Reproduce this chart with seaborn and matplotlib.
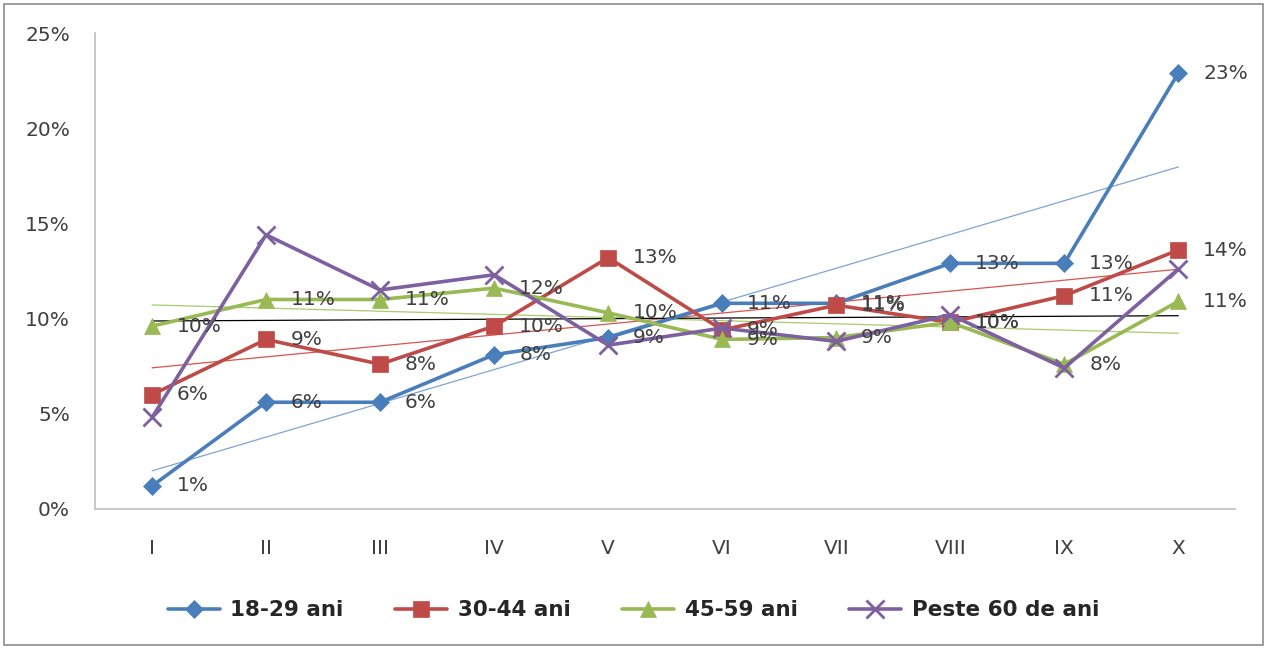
import matplotlib
matplotlib.use("Agg")
import matplotlib.pyplot as plt
from matplotlib.patches import Rectangle
from matplotlib.ticker import FuncFormatter
import seaborn as sns
import numpy as np

# === DATA (percent) ===
categories = ["I", "II", "III", "IV", "V", "VI", "VII", "VIII", "IX", "X"]
age_18_29 = [1.2, 5.6, 5.6, 8.1, 9.0, 10.8, 10.8, 12.9, 12.9, 22.9]
age_30_44 = [6.0, 8.9, 7.6, 9.6, 13.2, 9.4, 10.7, 9.8, 11.2, 13.6]
age_45_59 = [9.6, 11.0, 11.0, 11.6, 10.3, 8.9, 9.0, 9.8, 7.6, 10.9]
age_60_plus = [4.8, 14.4, 11.5, 12.3, 8.6, 9.5, 8.8, 10.2, 7.4, 12.6]

series_names = ["18-29 ani", "30-44 ani", "45-59 ani", "Peste 60 de ani"]
series_values = [age_18_29, age_30_44, age_45_59, age_60_plus]

# === STYLE ===
colors = ["#4A7EBB", "#BE4B48", "#98B954", "#7D60A0"]
trend_colors = ["#7FA3D6", "#D9534F", "#A8CC6E", "#000000"]
markers = ["D", "s", "^", "x"]
marker_sizes = [9, 11, 11, 13]
show_labels = [True, True, True, False]

sns.set_style("white")
plt.rcParams["font.family"] = ["DejaVu Sans"]

fig = plt.figure(figsize=(12.67, 6.49), dpi=100)
ax = fig.add_axes([0.075, 0.216, 0.9, 0.733])

x = np.arange(len(categories))

# trend lines (linear fit), drawn thin under the series
for vals, tc in zip(series_values, trend_colors):
    sns.regplot(x=x, y=vals, ax=ax, scatter=False, ci=None, truncate=True,
                line_kws={"color": tc, "lw": 0.9, "zorder": 1})

for name, vals, c, m, ms in zip(series_names, series_values, colors, markers, marker_sizes):
    sns.lineplot(x=x, y=vals, ax=ax, color=c, lw=2.6, marker=m, markersize=ms,
                 markeredgecolor=c, markeredgewidth=2 if m == "x" else 0.5,
                 label=name, zorder=3)

# data labels (last series has none in the original)
for vals, show in zip(series_values, show_labels):
    if not show:
        continue
    for xi, v in zip(x, vals):
        ax.annotate(f"{v:.0f}%", (xi, v), xytext=(18, 0), textcoords="offset points",
                    ha="left", va="center", fontsize=14.5, color="#404040", zorder=5)

ax.set_xlim(-0.5, len(categories) - 0.5)
ax.set_ylim(0, 25)
ax.set_yticks([0, 5, 10, 15, 20, 25])
ax.yaxis.set_major_formatter(FuncFormatter(lambda v, p: f"{v:.0f}%"))
ax.set_xticks(x)
ax.set_xticklabels(categories)
ax.tick_params(axis="both", labelsize=14.5, colors="#404040", length=0)
ax.tick_params(axis="x", pad=22)
ax.tick_params(axis="y", pad=18)
ax.set_xlabel("")
ax.set_ylabel("")

for side in ["top", "right"]:
    ax.spines[side].set_visible(False)
for side in ["left", "bottom"]:
    ax.spines[side].set_color("#BFBFBF")
    ax.spines[side].set_linewidth(1.2)

ax.legend(loc="center", bbox_to_anchor=(0.5, 0.06), bbox_transform=fig.transFigure,
          ncol=4, frameon=False, handlelength=2.4, columnspacing=2.4, handletextpad=0.5,
          prop={"weight": "bold", "size": 15.5})

fig.patches.append(Rectangle((0.003, 0.006), 0.994, 0.988, transform=fig.transFigure,
                             fill=False, ec="#8C8C8C", lw=1.2))

fig.savefig("out.png", dpi=100)
